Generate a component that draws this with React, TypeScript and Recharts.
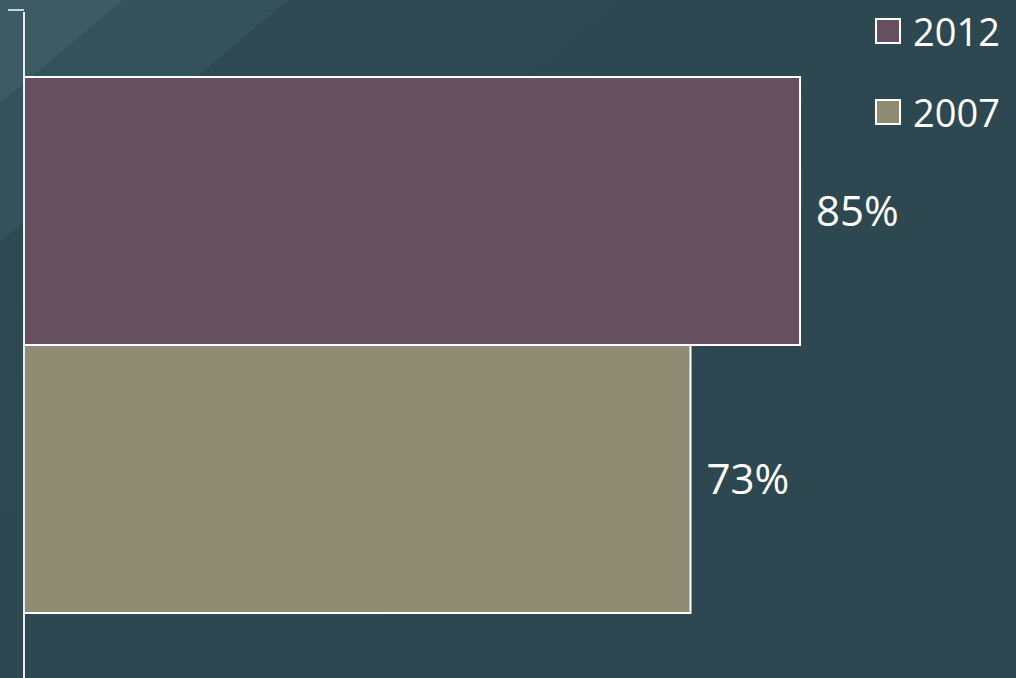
import { Bar, BarChart, LabelList, XAxis, YAxis } from "recharts";

const years = ["2012", "2007"];
const shares = [0.85, 0.73];
const colors = ["#66505f", "#908b73"];

const row: Record<string, string | number> = { name: "" };
years.forEach((y, i) => {
  row[y] = shares[i];
});
const data = [row];

const font = "'Open Sans', 'Noto Sans', sans-serif";

/** Two horizontal bars on a dark teal slide background. */
export default function App() {
  return (
    <div
      style={{
        position: "absolute",
        left: 0,
        top: 0,
        width: 1016,
        height: 678,
        overflow: "hidden",
        fontFamily: font,
        background:
          "linear-gradient(140deg, #3c5b64 0px, #3c5b64 79px, #34525b 79px, #34525b 185px, #2e4951 185px, #2c4750 100%)",
      }}
    >
      <BarChart
        width={1016}
        height={678}
        data={data}
        layout="vertical"
        margin={{ top: 12, right: 79, bottom: 0, left: 0 }}
        barGap={0}
        barSize={268}
      >
        <XAxis type="number" domain={[0, 1]} hide />
        <YAxis
          type="category"
          dataKey="name"
          width={24}
          tick={false}
          tickLine={false}
          axisLine={{ stroke: "#e8eef0", strokeWidth: 2 }}
        />
        {years.map((y, i) => (
          <Bar key={y} dataKey={y} fill={colors[i]} stroke="#ffffff" strokeWidth={2} isAnimationActive={false}>
            <LabelList
              dataKey={y}
              position="right"
              offset={16}
              fill="#ffffff"
              fontSize={42}
              fontFamily={font}
              formatter={(v: any) => `${Math.round(Number(v) * 100)}%`}
            />
          </Bar>
        ))}
      </BarChart>
      {/* top tick on the category axis */}
      <div style={{ position: "absolute", left: 8, top: 9, width: 16, height: 2, background: "#c9d3d6" }} />
      <div style={{ position: "absolute", right: 16, top: 3, display: "flex", flexDirection: "column", gap: 25 }}>
        {years.map((y, i) => (
          <div key={y} style={{ display: "flex", alignItems: "center", height: 56 }}>
            <span
              style={{
                width: 22,
                height: 22,
                background: colors[i],
                border: "2px solid #ffffff",
                marginRight: 12,
              }}
            />
            <span style={{ color: "#ffffff", fontSize: 38, lineHeight: "56px" }}>{y}</span>
          </div>
        ))}
      </div>
    </div>
  );
}
